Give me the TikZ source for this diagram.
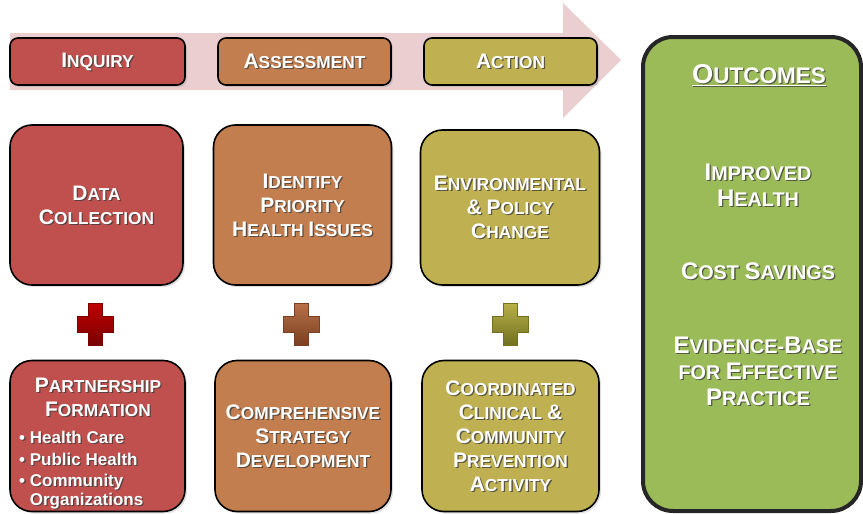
\documentclass[tikz,border=0pt]{standalone}
\usepackage{fontspec}
\setmainfont{Liberation Sans}
\usetikzlibrary{shadows}
\definecolor{redf}{HTML}{C0504D}
\definecolor{brownf}{HTML}{C27E4E}
\definecolor{olivef}{HTML}{BFB151}
\definecolor{greenf}{HTML}{9BBB59}
\definecolor{arrowc}{HTML}{EBCFD0}
\definecolor{shadowc}{HTML}{3A3A3A}
\definecolor{crossr}{HTML}{C00000}
\definecolor{crossrd}{HTML}{7A0000}
\definecolor{crossb}{HTML}{B87048}
\definecolor{crossbd}{HTML}{7A4020}
\definecolor{crosso}{HTML}{B8B048}
\definecolor{crossod}{HTML}{707020}
\def\scb{21}\def\scs{17.3}\def\scl{24}
\newcommand\setsc[3]{\def\scb{#1}\def\scs{#2}\def\scl{#3}\fontsize{#2}{#3}\selectfont}
\newcommand\SC[2]{{\fontsize{\scb}{\scl}\selectfont #1}{\fontsize{\scs}{\scl}\selectfont #2}}
\newcommand\shlabel[4][]{%
  \node[lbl,#1,text=shadowc,opacity=0.75,xshift=1.3pt,yshift=-1.3pt] at (#3) {#4};
  \node[lbl,#1] (#2) at (#3) {#4};}
\tikzset{
  lbl/.style={text=white, font=\bfseries\setsc{21}{17.3}{24}, align=center, inner sep=0pt},
  basebox/.style={draw=black, line width=1.6pt,
    drop shadow={opacity=0.25, shadow xshift=2pt, shadow yshift=-2pt}},
  tbox/.style={basebox, rounded corners=8pt},
  mbox/.style={basebox, rounded corners=22pt},
  obox/.style={draw=black!85, line width=4pt, rounded corners=30pt, fill=greenf},
  plus/.pic={\path[pic actions] (-7,-21) -- (7,-21) -- (7,-8) -- (18,-8) -- (18,8)
     -- (7,8) -- (7,21) -- (-7,21) -- (-7,8) -- (-18,8) -- (-18,-8) -- (-7,-8) -- cycle;},
}
\begin{document}
\begin{tikzpicture}[x=1pt,y=-1pt]
\useasboundingbox (0,0) rectangle (863,514);
% big arrow
\path[fill=arrowc] (10,33) -- (563,33) -- (563,3) -- (621,60) -- (563,118)
  -- (563,90) -- (10,90) -- cycle;
% top boxes
\node[tbox, fill=redf, minimum width=175pt, minimum height=47pt] (inq) at (97.5,61.5) {};
\node[tbox, fill=brownf, minimum width=173pt, minimum height=47pt] (ass) at (304.5,61.5) {};
\node[tbox, fill=olivef, minimum width=173pt, minimum height=47pt] (act) at (510.5,61.5) {};
\shlabel{inqt}{inq}{\SC{I}{NQUIRY}}
\shlabel{asst}{ass}{\SC{A}{SSESSMENT}}
\shlabel{actt}{act}{\SC{A}{CTION}}
% middle boxes
\node[mbox, fill=redf, minimum width=173pt, minimum height=160pt] (dc) at (96.5,205) {};
\node[mbox, fill=brownf, minimum width=178pt, minimum height=160pt] (idp) at (302.5,205) {};
\node[mbox, fill=olivef, minimum width=179pt, minimum height=155pt] (env) at (510,207.5) {};
\shlabel{dct}{dc}{\SC{D}{ATA}\\\SC{C}{OLLECTION}}
\shlabel{idpt}{idp}{\SC{I}{DENTIFY}\\\SC{P}{RIORITY}\\\SC{H}{EALTH} \SC{I}{SSUES}}
\shlabel{envt}{env}{\SC{E}{NVIRONMENTAL}\\\SC{\&}{} \SC{P}{OLICY}\\\SC{C}{HANGE}}
% crosses
\coordinate (c1) at (95,324);
\coordinate (c2) at (301,324);
\coordinate (c3) at (510,324);
\pic[top color=crossr, bottom color=crossrd, draw=crossrd, line width=0.6pt] at (c1) {plus};
\pic[top color=crossb, bottom color=crossbd, draw=crossbd, line width=0.6pt] at (c2) {plus};
\pic[top color=crosso, bottom color=crossod, draw=crossod, line width=0.6pt] at (c3) {plus};
% bottom boxes
\node[mbox, fill=redf, minimum width=175pt, minimum height=151pt] (pf) at (97.5,436) {};
\node[mbox, fill=brownf, minimum width=176pt, minimum height=151pt] (csd) at (303,436) {};
\node[mbox, fill=olivef, minimum width=177pt, minimum height=151pt] (ccc) at (510.5,436) {};
\coordinate (pft) at (98,397);
\shlabel{pftt}{pft}{\SC{P}{ARTNERSHIP}\\\SC{F}{ORMATION}}
\coordinate (pfb) at (19,431);
\shlabel[anchor=north west, align=left, font=\bfseries\fontsize{17}{21.5}\selectfont]{pfbt}{pfb}{%
  • Health Care\\• Public Health\\• Community\\[-2.5pt]\phantom{• }Organizations}
\shlabel{csdt}{csd}{\SC{C}{OMPREHENSIVE}\\\SC{S}{TRATEGY}\\\SC{D}{EVELOPMENT}}
\shlabel{ccct}{ccc}{\SC{C}{OORDINATED}\\\SC{C}{LINICAL} \SC{\&}{}\\\SC{C}{OMMUNITY}\\\SC{P}{REVENTION}\\\SC{A}{CTIVITY}}
% outcomes
\node[obox, minimum width=218pt, minimum height=474pt] (out) at (752,274) {};
\coordinate (o1) at (759,75);
\coordinate (o2) at (758,185);
\coordinate (o3) at (758,271);
\coordinate (o4) at (758,371);
\shlabel[font=\bfseries\setsc{27.3}{22.5}{28}]{o1t}{o1}{\underline{\SC{O}{UTCOMES}}}
\shlabel[font=\bfseries\setsc{24}{19.8}{26}]{o2t}{o2}{\SC{I}{MPROVED}\\\SC{H}{EALTH}}
\shlabel[font=\bfseries\setsc{24}{19.8}{26}]{o3t}{o3}{\SC{C}{OST} \SC{S}{AVINGS}}
\shlabel[font=\bfseries\setsc{24}{19.8}{26}]{o4t}{o4}{\SC{E}{VIDENCE-}\SC{B}{ASE}\\\SC{}{FOR} \SC{E}{FFECTIVE}\\\SC{P}{RACTICE}}
\end{tikzpicture}
\end{document}
